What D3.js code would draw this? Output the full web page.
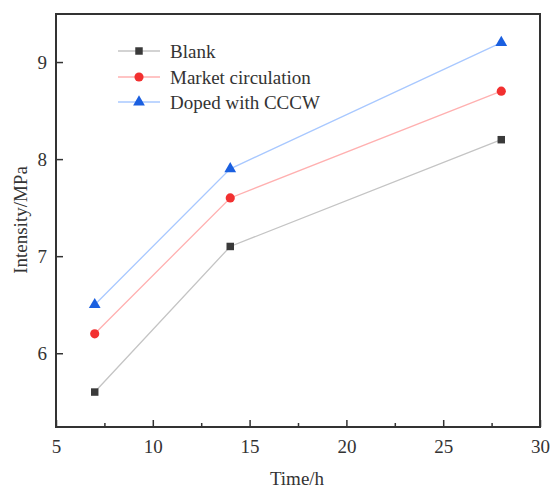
<!DOCTYPE html>
<html><head><meta charset="utf-8">
<script src="https://cdn.jsdelivr.net/npm/d3@7"></script>
<style>body{margin:0;background:#fff}svg{display:block}</style>
</head><body>
<svg id="c" width="551" height="488"></svg>
<script>
const times = [7, 14, 28];
const seriesNames = ["Blank", "Market circulation", "Doped with CCCW"];
const blank = [5.6, 7.1, 8.2];
const market = [6.2, 7.6, 8.7];
const doped = [6.5, 7.9, 9.2];
const xTicks = [5, 10, 15, 20, 25, 30];
const yTicks = [6, 7, 8, 9];

const FONT = "'Liberation Serif', 'DejaVu Serif', serif";
const FS = 19;
const series = [
  {name: seriesNames[0], vals: blank, line: "#c4c4c4", mark: "#3a3a3a", sym: d3.symbolSquare, size: 56},
  {name: seriesNames[1], vals: market, line: "#ffb0b0", mark: "#f23030", sym: d3.symbolCircle, size: 66},
  {name: seriesNames[2], vals: doped, line: "#a8c8ff", mark: "#1a5fe0", sym: d3.symbolTriangle, size: 60}
];

const svg = d3.select("#c");
const L = 56, R = 540, T = 14, B = 427;
const x = d3.scaleLinear().domain([5, 30]).range([L, R]);
const y = d3.scaleLinear().domain([5.24, 9.495]).range([B, T]);

series.forEach(s => {
  const pts = times.map((t, i) => [x(t), y(s.vals[i])]);
  svg.append("path").attr("d", d3.line()(pts)).attr("fill", "none")
    .attr("stroke", s.line).attr("stroke-width", 1.3);
  svg.selectAll(null).data(pts).enter().append("path")
    .attr("transform", d => `translate(${d[0]},${d[1]})`)
    .attr("d", d3.symbol().type(s.sym).size(s.size)).attr("fill", s.mark);
});

const xAx = svg.append("g").attr("transform", `translate(0,${B})`)
  .call(d3.axisBottom(x).tickValues(xTicks).tickSize(-7).tickPadding(13).tickFormat(d3.format("d")));
const xMin = svg.append("g").attr("transform", `translate(0,${B})`)
  .call(d3.axisBottom(x).tickValues([7.5, 12.5, 17.5, 22.5, 27.5]).tickSize(-4).tickFormat(""));
const yAx = svg.append("g").attr("transform", `translate(${L},0)`)
  .call(d3.axisLeft(y).tickValues(yTicks).tickSize(-7).tickPadding(9).tickFormat(d3.format("d")));
[xAx, xMin, yAx].forEach(g => {
  g.select(".domain").remove();
  g.selectAll("line").attr("stroke", "#333").attr("stroke-width", 1.5);
  g.selectAll("text").attr("font-family", FONT).attr("font-size", FS).attr("fill", "#333");
});
svg.append("rect").attr("x", L).attr("y", T).attr("width", R - L).attr("height", B - T)
  .attr("fill", "none").attr("stroke", "#333").attr("stroke-width", 2);

svg.append("text").attr("x", 297).attr("y", 485).attr("text-anchor", "middle")
  .attr("font-family", FONT).attr("font-size", FS).attr("fill", "#333").text("Time/h");
svg.append("text").attr("transform", "translate(27,220) rotate(-90)").attr("text-anchor", "middle")
  .attr("font-family", FONT).attr("font-size", FS).attr("fill", "#333").text("Intensity/MPa");

const lg = [51, 77, 102];
series.forEach((s, i) => {
  svg.append("line").attr("x1", 118).attr("x2", 160).attr("y1", lg[i]).attr("y2", lg[i])
    .attr("stroke", s.line).attr("stroke-width", 1.3);
  svg.append("path").attr("transform", `translate(139,${lg[i]})`)
    .attr("d", d3.symbol().type(s.sym).size(s.size)).attr("fill", s.mark);
  svg.append("text").attr("x", 170).attr("y", lg[i]).attr("dy", "0.35em")
    .attr("font-family", FONT).attr("font-size", FS).attr("fill", "#333").text(s.name);
});
</script>
</body></html>
